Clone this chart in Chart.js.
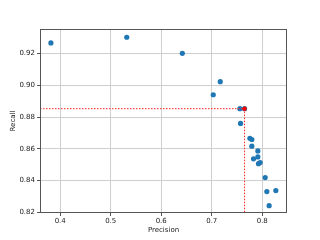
<!DOCTYPE html>
<html>
<head>
<meta charset="utf-8">
<script src="https://cdn.jsdelivr.net/npm/chart.js@4/dist/chart.umd.min.js"></script>
<style>
  html, body { margin: 0; padding: 0; background: #fff; }
  #wrap { width: 320px; height: 240px; }
</style>
</head>
<body>
<div id="wrap"><canvas id="prChart" width="320" height="240"></canvas></div>
<script>
// precision / recall pairs
const precision = [0.3816, 0.5318, 0.6418, 0.7169, 0.7030, 0.7557, 0.7650, 0.7570, 0.7755, 0.7794,
  0.7794, 0.7913, 0.7827, 0.7913, 0.7926, 0.7959, 0.8058, 0.8091, 0.8269, 0.8136];
const recall = [0.9267, 0.9303, 0.9202, 0.9023, 0.8941, 0.8853, 0.8853, 0.8760, 0.8667, 0.8659,
  0.8617, 0.8587, 0.8537, 0.8549, 0.8507, 0.8514, 0.8419, 0.8331, 0.8337, 0.8242];
// chosen operating point
const bestPrecision = 0.765;
const bestRecall = 0.8853;

const xMin = 0.36, xMax = 0.849;
const yMin = 0.8196, yMax = 0.9355;
const xTicks = [0.4, 0.5, 0.6, 0.7, 0.8];
const yTicks = [0.82, 0.84, 0.86, 0.88, 0.90, 0.92];

const points = precision.map((p, i) => ({ x: p, y: recall[i] }));

// box round the plot area, like matplotlib spines
const frame = {
  id: 'frame',
  afterDraw(chart) {
    const a = chart.chartArea, c = chart.ctx;
    c.save();
    c.strokeStyle = '#555';
    c.lineWidth = 1;
    c.strokeRect(a.left + 0.5, a.top + 0.5, a.right - a.left - 1, a.bottom - a.top - 1);
    c.restore();
  }
};

const tickFont = { family: 'DejaVu Sans', size: 7 };

new Chart(document.getElementById('prChart').getContext('2d'), {
  type: 'scatter',
  data: {
    datasets: [
      {
        data: [{ x: bestPrecision, y: bestRecall }],
        backgroundColor: '#ff0000',
        borderColor: '#ff0000',
        pointRadius: 2.2,
        pointBorderWidth: 0
      },
      {
        type: 'line',
        data: [{ x: xMin, y: bestRecall }, { x: bestPrecision, y: bestRecall }],
        borderColor: '#ff2020',
        borderWidth: 1,
        borderDash: [1.5, 1.5],
        pointRadius: 0,
        fill: false
      },
      {
        type: 'line',
        data: [{ x: bestPrecision, y: bestRecall }, { x: bestPrecision, y: yMin }],
        borderColor: '#ff2020',
        borderWidth: 1,
        borderDash: [1.5, 1.5],
        pointRadius: 0,
        fill: false
      },
      {
        data: points,
        backgroundColor: '#1f77b4',
        borderColor: '#1f77b4',
        pointRadius: 2.6,
        pointBorderWidth: 0
      }
    ]
  },
  options: {
    responsive: false,
    animation: false,
    layout: { padding: { left: 9, right: 33, top: 29, bottom: 6 } },
    plugins: { legend: { display: false }, tooltip: { enabled: false } },
    scales: {
      x: {
        type: 'linear',
        min: xMin,
        max: xMax,
        afterBuildTicks: (s) => { s.ticks = xTicks.map(v => ({ value: v })); },
        afterFit: (s) => { s.height = 21; },
        grid: { color: '#cfcfcf', tickColor: '#555', tickLength: 3 },
        border: { display: false },
        ticks: { font: tickFont, color: '#222', padding: 1, maxRotation: 0,
          callback: (v) => v.toFixed(1) },
        title: { display: true, text: 'Precision', font: tickFont, color: '#222', padding: { top: 1, bottom: 0 } }
      },
      y: {
        type: 'linear',
        min: yMin,
        max: yMax,
        afterBuildTicks: (s) => { s.ticks = yTicks.map(v => ({ value: v })); },
        afterFit: (s) => { s.width = 31; },
        grid: { color: '#cfcfcf', tickColor: '#555', tickLength: 3 },
        border: { display: false },
        ticks: { font: tickFont, color: '#222', padding: 2,
          callback: (v) => v.toFixed(2) },
        title: { display: true, text: 'Recall', font: tickFont, color: '#222', padding: { top: 0, bottom: 1 } }
      }
    }
  },
  plugins: [frame]
});
</script>
</body>
</html>
